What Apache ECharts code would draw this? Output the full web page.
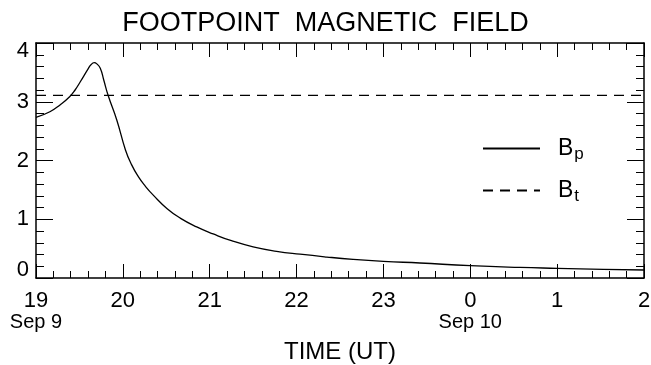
<!DOCTYPE html>
<html>
<head>
<meta charset="utf-8">
<script src="https://cdn.jsdelivr.net/npm/echarts@6/dist/echarts.min.js"></script>
<style>
  html, body { margin: 0; padding: 0; background: #fff; }
  #chart { width: 651px; height: 365px; }
</style>
</head>
<body>
<div id="chart"></div>
<script>
// hours counted from 00 UT Sep 9 (24 = 00 UT Sep 10)
const bpHours = [19.0, 19.16, 19.28, 19.39, 19.45, 19.51, 19.60, 19.63, 19.67, 19.70,
  19.74, 19.78, 19.83, 19.93, 20.03, 20.10, 20.18, 20.26, 20.35, 20.51,
  20.66, 20.85, 21.04, 21.25, 21.50, 21.77, 22.04, 22.35, 22.65, 23.00,
  23.42, 24.00, 24.57, 25.00, 25.53, 26.00];
const bpValues = [2.735, 2.83, 2.95, 3.09, 3.20, 3.34, 3.56, 3.625, 3.665, 3.645,
  3.57, 3.37, 3.11, 2.69, 2.18, 1.93, 1.72, 1.56, 1.41, 1.18,
  1.02, 0.87, 0.75, 0.635, 0.53, 0.455, 0.405, 0.357, 0.318, 0.284,
  0.255, 0.21, 0.18, 0.165, 0.148, 0.136];
const btHours = [19.0, 26.0];
const btValues = [3.11, 3.11];
const dayLabels = { 19: "Sep 9", 24: "Sep 10" };

const FONT = "'Liberation Sans', Arial, Helvetica, sans-serif";
const INK = "#000";

const zip = (xs, ys) => xs.map((x, i) => [x, ys[i]]);

const xBase = {
  type: "value",
  min: 19,
  max: 26,
  interval: 1,
  splitLine: { show: false },
  axisLine: { show: true, onZero: false, lineStyle: { color: INK, width: 1.5 } },
  axisTick: { show: true, inside: true, length: 14, lineStyle: { color: INK } },
  minorTick: { show: true, splitNumber: 5, length: 7, lineStyle: { color: INK } },
};
const yBase = {
  type: "value",
  min: 0,
  max: 4,
  interval: 1,
  splitLine: { show: false },
  axisLine: { show: true, onZero: false, lineStyle: { color: INK, width: 1.5 } },
  axisTick: { show: true, inside: true, length: 17, lineStyle: { color: INK } },
  minorTick: { show: true, splitNumber: 5, length: 8, lineStyle: { color: INK } },
};

const chart = echarts.init(document.getElementById("chart"), null, { renderer: "canvas" });
chart.setOption({
  animation: false,
  backgroundColor: "#fff",
  textStyle: { fontFamily: FONT, color: INK },
  title: {
    text: "FOOTPOINT  MAGNETIC  FIELD",
    left: "center",
    top: 5,
    textStyle: { fontFamily: FONT, fontSize: 27, fontWeight: "normal", color: INK },
  },
  grid: { left: 36, right: 7, top: 43, bottom: 87, outerBoundsMode: "none", containLabel: false },
  legend: {
    orient: "vertical",
    left: 477,
    top: 132,
    itemWidth: 57,
    itemHeight: 16,
    itemGap: 16,
    itemStyle: { opacity: 0 },
    formatter: (name) => (name === "Bp" ? "{b|B}{s|p}" : "{b|B}{s|t}"),
    textStyle: {
      rich: {
        b: { fontFamily: FONT, fontSize: 23, color: INK, padding: [0, 0, 0, 13] },
        s: { fontFamily: FONT, fontSize: 17, color: INK, padding: [12, 0, 0, 1] },
      },
    },
  },
  xAxis: [
    Object.assign({}, xBase, {
      position: "bottom",
      axisLabel: {
        margin: 12,
        formatter: (v) => {
          const h = v % 24;
          return dayLabels[v] ? `{h|${h}}\n{d|${dayLabels[v]}}` : `{h|${h}}`;
        },
        rich: {
          h: { fontFamily: FONT, fontSize: 22, color: INK, lineHeight: 22 },
          d: { fontFamily: FONT, fontSize: 20, color: INK, lineHeight: 20 },
        },
      },
      name: "TIME (UT)",
      nameLocation: "middle",
      nameGap: 62,
      nameTextStyle: { fontFamily: FONT, fontSize: 24, color: INK },
    }),
    Object.assign({}, xBase, { position: "top", axisLabel: { show: false } }),
  ],
  yAxis: [
    Object.assign({}, yBase, {
      position: "left",
      axisLabel: {
        margin: 7,
        fontFamily: FONT,
        fontSize: 22,
        lineHeight: 16,
        color: INK,
        verticalAlignMinLabel: "bottom",
        verticalAlignMaxLabel: "top",
      },
    }),
    Object.assign({}, yBase, { position: "right", axisLabel: { show: false } }),
  ],
  series: [
    {
      name: "Bp",
      type: "line",
      data: zip(bpHours, bpValues),
      smooth: 0.5,
      symbol: "none",
      lineStyle: { color: INK, width: 1.3, type: "solid" },
      itemStyle: { color: INK },
    },
    {
      name: "Bt",
      type: "line",
      data: zip(btHours, btValues),
      symbol: "none",
      lineStyle: { color: INK, width: 1.2, type: [10, 7] },
      itemStyle: { color: INK },
    },
  ],
});
</script>
</body>
</html>
